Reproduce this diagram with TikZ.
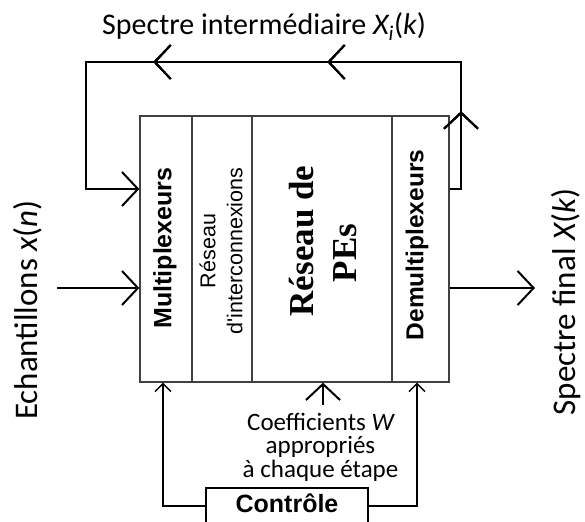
\documentclass[tikz,border=0pt]{standalone}
\usepackage{fontspec}
\usetikzlibrary{arrows.meta,decorations.markings}
\newfontfamily\calib{Carlito}
\newfontfamily\arialf{Liberation Sans}
\newfontfamily\timesf{Liberation Serif}

\tikzset{
  x=1pt, y=-1pt,
  col/.style={draw=black!75, line width=1.3pt, minimum height=266pt, inner sep=0pt},
  vtext/.style={rotate=90, inner sep=0pt, align=center},
  flow/.style={line width=2pt, black},
  bigtip/.style={-{Straight Barb[length=16pt,width=34pt,line width=2pt]}},
  smalltip/.style={-{Straight Barb[length=8pt,width=16pt,line width=1.4pt]}},
  ctrlline/.style={line width=1.6pt, black},
  midtip/.style={postaction={decorate}, decoration={markings,
      mark=at position #1 with {\arrow{Straight Barb[length=16pt,width=34pt,line width=2pt]}}}},
}

\begin{document}
\begin{tikzpicture}
\useasboundingbox (0,0) rectangle (585,521);

% processing block made of four columns
\node[col, minimum width=52pt]  (mux)   at (166,249)   {};
\node[col, minimum width=60pt]  (net)   at (222,249)   {};
\node[col, minimum width=140pt] (pes)   at (322,249)   {};
\node[col, minimum width=57pt]  (demux) at (420.5,249) {};

\node[vtext, font=\arialf\bfseries\fontsize{25}{28}\selectfont] (muxlbl) at (165,248) {Multiplexeurs};
\node[vtext, font=\arialf\fontsize{21.5}{27}\selectfont] (netlbl) at (221,251) {Réseau\\d\textquotesingle interconnexions};
\node[vtext, font=\timesf\bfseries\fontsize{35}{43}\selectfont] (peslbl) at (323,241) {Réseau de\\PEs\hspace{24pt}\mbox{}};
\node[vtext, font=\arialf\bfseries\fontsize{24.5}{28}\selectfont] (demuxlbl) at (417,245) {Demultiplexeurs};

% outer labels
\node[anchor=base, inner sep=0pt, font=\calib\fontsize{30}{36}\selectfont] (title) at (264,35)
  {Spectre intermédiaire {\itshape X}\textsubscript{\itshape i}({\itshape k})};
\node[rotate=90, anchor=base, inner sep=0pt, font=\calib\fontsize{33}{40}\selectfont] (inlbl) at (37,310)
  {Echantillons {\itshape x}({\itshape n})};
\node[rotate=90, anchor=base, inner sep=0pt, font=\calib\fontsize{33}{40}\selectfont] (outlbl) at (575,302)
  {Spectre final {\itshape X}({\itshape k})};

% coefficients and control
\node[anchor=base, align=center, inner sep=0pt, font=\calib\fontsize{25}{23.5}\selectfont] (coef) at (320.5,477)
  {Coefficients {\itshape W}\\appropriés\\à chaque étape};
\node[draw=black, line width=1.5pt, minimum width=162pt, minimum height=36pt, inner sep=0pt,
      text height=18pt, text depth=6pt, font=\arialf\bfseries\fontsize{25}{30}\selectfont] (ctrl) at (287,506) {Contrôle};

% free ends of the connectors and helper levels
\coordinate (inStart)  at (57,288);
\coordinate (outEnd)   at (535,288);
\coordinate (coefTop)  at (323,405);
\coordinate (loopY)    at (0,189);

% input and output
\draw[flow, bigtip] (inStart) -- (inStart -| mux.west);
\draw[flow, bigtip] (outEnd -| demux.east) -- (outEnd);

% feedback loop of the intermediate spectrum
\draw[flow, bigtip, line join=miter,
      midtip=89pt, midtip=272pt, midtip=446pt]
  (demux.east |- loopY) -- (461,189) -- (461,62) -- (86,62) -- (86,189) -- (mux.west |- loopY);

% coefficients into the PE network
\draw[flow, bigtip] (coefTop) -- (coefTop |- pes.south);

% control lines
\draw[ctrlline, smalltip] (ctrl.west) -| ([xshift=-3pt]mux.south);
\draw[ctrlline, smalltip] (ctrl.east) -| ([xshift=-3.5pt]demux.south);
\end{tikzpicture}
\end{document}
